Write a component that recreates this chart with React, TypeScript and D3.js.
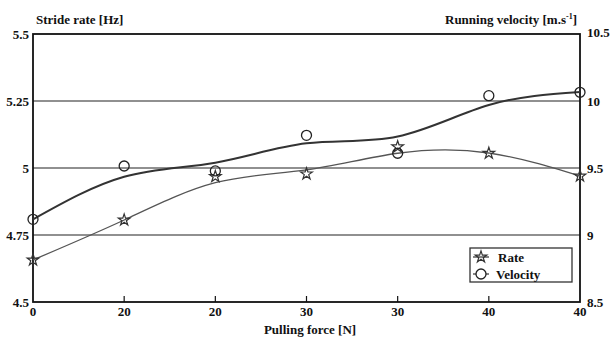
import * as d3 from 'd3'

const W = 610
const H = 338

// categories on the x axis (pulling force), evenly spaced
const forceLabels = ['0', '20', '20', '30', '30', '40', '40']

// measured points
const rateValues = [4.657, 4.806, 4.968, 4.978, 5.079, 5.055, 4.97]
const velocityValues = [9.117, 9.515, 9.478, 9.744, 9.61, 10.04, 10.065]

// fitted trend lines, read at each category
const rateTrend = [4.657, 4.806, 4.945, 4.993, 5.055, 5.056, 4.97]
const velocityTrend = [9.117, 9.435, 9.54, 9.684, 9.735, 9.97, 10.067]

const leftTicks = [4.5, 4.75, 5, 5.25, 5.5]
const leftTickLabels = ['4.5', '4.75', '5', '5.25', '5.5']
const rightTicks = [8.5, 9, 9.5, 10, 10.5]
const gridTicks = [4.75, 5, 5.25]

const FONT = '"Liberation Serif", "Times New Roman", serif'

export default function App() {
  const m = { left: 33, right: 580, top: 34, bottom: 302 }
  const idx = forceLabels.map((_, i) => String(i))
  const x = d3.scalePoint<string>().domain(idx).range([m.left, m.right]).padding(0)
  const yL = d3.scaleLinear().domain([4.5, 5.5]).range([m.bottom, m.top])
  const yR = d3.scaleLinear().domain([8.5, 10.5]).range([m.bottom, m.top])

  const rateLine = d3.line<number>()
    .x((_, i) => x(String(i))!)
    .y(d => yL(d))
    .curve(d3.curveNatural)
  const velLine = d3.line<number>()
    .x((_, i) => x(String(i))!)
    .y(d => yR(d))
    .curve(d3.curveNatural)

  const star = d3.symbol().type(d3.symbolStar).size(42)()!

  return (
    <svg width={W} height={H} style={{ display: 'block', position: 'absolute', left: 0, top: 0, background: '#fff' }}
      fontFamily={FONT} fontWeight="bold">
      <rect width={W} height={H} fill="#fff" />

      {/* gridlines */}
      {gridTicks.map(t => (
        <line key={t} x1={m.left} x2={m.right} y1={yL(t)} y2={yL(t)} stroke="#222" strokeWidth={1.2} />
      ))}

      {/* frame */}
      <rect x={m.left} y={m.top} width={m.right - m.left} height={m.bottom - m.top}
        fill="none" stroke="#111" strokeWidth={1.8} />

      {/* bottom inner ticks */}
      {idx.slice(1, -1).map(k => (
        <line key={k} x1={x(k)} x2={x(k)} y1={m.bottom} y2={m.bottom - 6} stroke="#111" strokeWidth={1.2} />
      ))}

      {/* x labels */}
      {forceLabels.map((lab, i) => (
        <text key={i} x={x(String(i))} y={316} textAnchor="middle" fontSize={13} fill="#111">{lab}</text>
      ))}

      {/* left labels */}
      {leftTicks.map((t, i) => (
        <text key={t} x={29} y={yL(t) + 4.5} textAnchor="end" fontSize={13} fill="#111">{leftTickLabels[i]}</text>
      ))}

      {/* right labels */}
      {rightTicks.map(t => (
        <text key={t} x={587} y={yR(t) + (t === 10.5 ? 3 : t === 8.5 ? 5 : 4.5)} fontSize={13} fill="#111">{String(t)}</text>
      ))}

      {/* titles */}
      <text x={36} y={24} fontSize={13} fill="#111">Stride rate [Hz]</text>
      <text x={577} y={24} textAnchor="end" fontSize={13} fill="#111">
        Running velocity [m.s<tspan dy={-5} fontSize={8}>-1</tspan><tspan dy={5}>]</tspan>
      </text>
      <text x={310} y={334} textAnchor="middle" fontSize={13} fill="#111">Pulling force [N]</text>

      {/* trend lines */}
      <path d={rateLine(rateTrend)!} fill="none" stroke="#555" strokeWidth={1.3} />
      <path d={velLine(velocityTrend)!} fill="none" stroke="#333" strokeWidth={2} />

      {/* markers */}
      {rateValues.map((v, i) => (
        <path key={'r' + i} d={star} transform={`translate(${x(String(i))},${yL(v)})`}
          fill="none" stroke="#333" strokeWidth={1.2} />
      ))}
      {velocityValues.map((v, i) => (
        <circle key={'v' + i} cx={x(String(i))} cy={yR(v)} r={5} fill="none" stroke="#222" strokeWidth={1.3} />
      ))}

      {/* legend */}
      <g>
        <rect x={470} y={248} width={102} height={34} fill="#fff" stroke="#333" strokeWidth={1.3} />
        <line x1={473} x2={489} y1={257} y2={257} stroke="#333" strokeWidth={1.2} />
        <path d={star} transform="translate(481,257)" fill="none" stroke="#333" strokeWidth={1.2} />
        <text x={498} y={261.5} fontSize={13} fill="#111">Rate</text>
        <line x1={473} x2={489} y1={274} y2={274} stroke="#333" strokeWidth={1.2} />
        <circle cx={481} cy={274} r={5} fill="#fff" stroke="#222" strokeWidth={1.3} />
        <text x={496} y={278.5} fontSize={13} fill="#111">Velocity</text>
      </g>
    </svg>
  )
}
